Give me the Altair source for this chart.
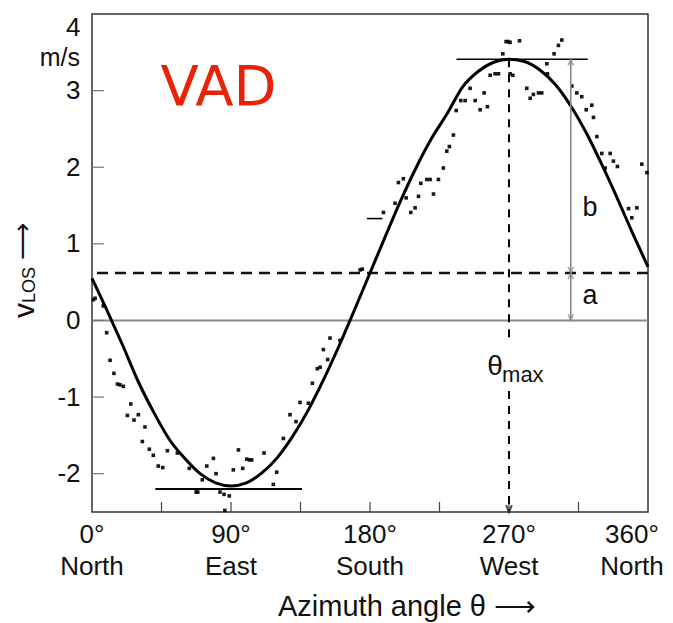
import altair as alt
import pandas as pd

# ---------------- data ----------------
curve_theta = list(range(0, 361, 10))
curve_v = [0.55, 0.12, -0.33, -0.80, -1.20, -1.55, -1.80, -2.00, -2.12, -2.16,
           -2.12, -1.99, -1.79, -1.51, -1.17, -0.77, -0.33, 0.14, 0.62, 1.10,
           1.57, 2.00, 2.38, 2.70, 3.05, 3.25, 3.37, 3.41, 3.38, 3.27,
           3.08, 2.80, 2.45, 2.04, 1.60, 1.14, 0.70]

dot_theta = [0.9, 2.0, 7.3, 9.5, 11.7, 14.2, 16.5, 18.1, 20.3, 22.9, 25.1, 27.2, 30.0,
             32.6, 34.3, 37.1, 39.7, 42.9, 45.8, 48.8, 55.3, 63.0, 67.4, 68.5, 71.4,
             74.3, 78.6, 80.3, 82.9, 85.5, 86.0, 88.9, 91.5, 94.8, 97.6, 100.2, 102.0,
             103.4, 111.4, 117.4, 119.6, 123.9, 128.2, 132.1, 134.7, 140.1, 142.7,
             145.9, 147.7, 149.8, 152.6, 154.1, 160.6, 173.6, 175.0, 188.7, 196.2,
             198.4, 201.6, 203.4, 206.4, 209.2, 211.4, 212.9, 216.8, 218.9, 221.1,
             224.3, 227.5, 229.7, 231.4, 234.0, 235.8, 238.8, 241.6, 244.8, 248.1,
             251.3, 253.9, 256.0, 257.8, 261.0, 263.2, 266.0, 268.1, 269.5, 270.7,
             276.8, 270.7, 272.5, 281.5, 283.7, 285.8, 289.1, 291.2, 294.5, 294.9,
             299.2, 302.0, 304.2, 310.7, 313.9, 317.1, 320.0, 323.6, 324.7, 326.9,
             330.1, 332.3, 335.5, 337.6, 340.2, 347.4, 349.5, 352.8, 356.0, 359.3]
dot_v = [0.27, 0.29, 0.19, -0.16, -0.52, -0.69, -0.83, -0.84, -0.86, -1.24, -1.09, -1.30, -1.23,
         -1.58, -1.39, -1.68, -1.76, -1.90, -1.92, -1.70, -1.73, -1.93, -2.24, -2.24, -2.08,
         -1.90, -1.80, -2.00, -2.24, -2.27, -2.48, -2.29, -1.95, -1.69, -1.93, -1.81, -1.82,
         -1.82, -1.73, -2.14, -1.98, -1.54, -1.23, -1.32, -1.07, -1.08, -0.82,
         -0.63, -0.61, -0.38, -0.51, -0.23, -0.26, 0.66, 0.67, 1.41, 1.53,
         1.80, 1.85, 1.60, 1.41, 1.47, 1.62, 1.79, 1.84, 1.84, 1.65,
         1.84, 1.99, 2.21, 2.27, 2.42, 2.74, 2.87, 2.87, 3.03, 2.87,
         2.75, 2.97, 2.79, 3.20, 3.22, 3.22, 3.48, 3.64, 3.64, 3.63,
         3.65, 3.22, 3.20, 3.03, 2.90, 2.95, 2.97, 2.97, 3.35, 3.22,
         3.48, 3.59, 3.66, 3.06, 2.97, 2.92, 2.75, 2.81, 2.65, 2.40,
         2.18, 1.99, 2.18, 2.08, 2.01, 1.46, 1.34, 1.47, 2.04, 1.93]

a_offset = 0.62          # dashed mean line (a)
v_max = 3.41             # maximum of fit
theta_max = 270
b_arrow_theta = 310
top_tangent = [236, 321]
bottom_tangent = [41, 136, -2.2]
short_dash = [178, 188, 1.33]

x_tick_vals = [0, 45, 90, 135, 180, 225, 270, 315, 360]
x_label_vals = [0, 90, 180, 270, 360]
x_label_deg = ["0°", "90°", "180°", "270°", "360°"]
x_label_dir = ["North", "East", "South", "West", "North"]
y_tick_vals = [-2, -1, 0, 1, 2, 3, 4]

# ---------------- scales / axes ----------------
FONT = "Liberation Sans"
xs = alt.Scale(domain=[0, 360], nice=False, zero=False)
ys = alt.Scale(domain=[-2.5, 4], nice=False, zero=False)

xax = alt.Axis(values=x_tick_vals, labels=False, ticks=False, tickSize=0, domain=False,
               grid=False, title=None)
yax = alt.Axis(values=y_tick_vals, ticks=False, tickSize=0, domain=False, grid=False,
               labelExpr="'' + datum.value",
               labelFontSize=26, labelFont=FONT, labelColor="#111", labelPadding=12,
               labelFlush=True, title=None)


def X(f):
    return alt.X(f, type="quantitative", scale=xs, axis=xax, title=None)


def Y(f):
    return alt.Y(f, type="quantitative", scale=ys, axis=yax, title=None)


curve_df = pd.DataFrame({"theta": curve_theta, "v": curve_v})
dots_df = pd.DataFrame({"theta": dot_theta, "v": dot_v})

hlines_df = pd.DataFrame({"v": [0.0]})
dash_df = pd.DataFrame({"v": [a_offset]})

seg_df = pd.DataFrame({
    "theta": [top_tangent[0], bottom_tangent[0], short_dash[0]],
    "theta2": [top_tangent[1], bottom_tangent[1], short_dash[1]],
    "v": [v_max, bottom_tangent[2], short_dash[2]],
    "w": [1.6, 2.0, 1.6],
})

vdash_df = pd.DataFrame({"theta": [theta_max, theta_max], "v": [v_max, -0.92], "v2": [-0.30, -2.48]})
barrow_df = pd.DataFrame({"theta": [b_arrow_theta], "v": [v_max], "v2": [0.0]})

up_df = pd.DataFrame({"theta": [b_arrow_theta, b_arrow_theta], "v": [v_max, a_offset]})
down_df = pd.DataFrame({"theta": [b_arrow_theta, b_arrow_theta], "v": [a_offset, 0.0]})
down_black_df = pd.DataFrame({"theta": [theta_max], "v": [-2.5]})

xt_df = pd.DataFrame({"theta": [t for t in x_tick_vals if 0 < t < 360]})
yt_df = pd.DataFrame({"v": [t for t in y_tick_vals if t < 4]})

xlab_df = pd.DataFrame({"theta": x_label_vals,
                        "t": [f"{d}\n{n}" for d, n in zip(x_label_deg, x_label_dir)]})

zero_line = alt.Chart(hlines_df).mark_rule(color="#8a8a8a", strokeWidth=2).encode(y=Y("v"))
a_line = alt.Chart(dash_df).mark_rule(color="#111", strokeWidth=2.4, strokeDash=[11, 7]).encode(y=Y("v"))

xticks = alt.Chart(xt_df).mark_rule(color="#444", strokeWidth=1.2).encode(
    x=X("theta"), y=alt.value(498), y2=alt.value(488))
yticks = alt.Chart(yt_df).mark_rule(color="#777", strokeWidth=1.2).encode(
    y=Y("v"), x=alt.value(0), x2=alt.value(12))

curve = alt.Chart(curve_df).mark_line(color="#000", strokeWidth=3, interpolate="monotone").encode(
    x=X("theta"), y=Y("v"))

dots = alt.Chart(dots_df).mark_square(size=13, color="#000", opacity=0.9).encode(
    x=X("theta"), y=Y("v"))

segs = alt.Chart(seg_df).mark_rule(color="#000").encode(
    x=X("theta"), x2="theta2", y=Y("v"), strokeWidth=alt.StrokeWidth("w:Q", scale=None, legend=None))

vdash = alt.Chart(vdash_df).mark_rule(color="#000", strokeWidth=2, strokeDash=[8, 7]).encode(
    x=X("theta"), y=Y("v"), y2="v2")

barrow = alt.Chart(barrow_df).mark_rule(color="#888", strokeWidth=1.6).encode(
    x=X("theta"), y=Y("v"), y2="v2")

UP = "M-0.55,1.3L0,0L0.55,1.3"
DOWN = "M-0.55,-1.3L0,0L0.55,-1.3"
up_heads = alt.Chart(up_df).mark_point(shape=UP, size=90, filled=False, color="#888", strokeWidth=1.6).encode(
    x=X("theta"), y=Y("v"))
down_heads = alt.Chart(down_df).mark_point(shape=DOWN, size=90, filled=False, color="#888", strokeWidth=1.6).encode(
    x=X("theta"), y=Y("v"))
down_black = alt.Chart(down_black_df).mark_point(shape=DOWN, size=110, filled=False, color="#000", strokeWidth=2).encode(
    x=X("theta"), y=Y("v"))

# x tick labels (two lines: degrees and compass direction)
xlabels = alt.Chart(xlab_df[xlab_df.theta < 360]).mark_text(
    font=FONT, fontSize=26, color="#111", align="center", baseline="top",
    lineBreak="\n", lineHeight=32).encode(x=X("theta"), y=alt.value(508), text="t:N")
xlabel_end = alt.Chart(xlab_df[xlab_df.theta == 360]).mark_text(
    font=FONT, fontSize=26, color="#111", align="center", baseline="top",
    lineBreak="\n", lineHeight=32, dx=-16).encode(x=X("theta"), y=alt.value(508), text="t:N")

# ---------------- text annotations ----------------
ann_df = pd.DataFrame({
    "theta": [322.5, 322.5, 261],
    "v": [1.47, 0.32, -0.61],
    "t": ["b", "a", "θ"],
    "fs": [27, 27, 28],
})
ann = alt.Chart(ann_df).mark_text(font=FONT, color="#111", baseline="middle", align="center").encode(
    x=X("theta"), y=Y("v"), text="t:N",
    size=alt.Size("fs:Q", scale=None, legend=None))
vad = alt.Chart(pd.DataFrame({"theta": [82], "v": [3.03], "t": ["VAD"]})).mark_text(
    font="DejaVu Sans", fontSize=56, color="#e8230a", baseline="middle", align="center").encode(
    x=X("theta"), y=Y("v"), text="t:N")

sub = alt.Chart(pd.DataFrame({"theta": [265.5], "v": [-0.71], "t": ["max"]})).mark_text(
    font=FONT, fontSize=22, color="#111", baseline="middle", align="left").encode(
    x=X("theta"), y=Y("v"), text="t:N")

ms = alt.Chart(pd.DataFrame({"v": [3.43], "t": ["m/s"]})).mark_text(
    font=FONT, fontSize=25, color="#111", baseline="middle", align="right").encode(
    x=alt.value(-12), y=Y("v"), text="t:N")

# axis titles built from text marks (subscript needed)
yt_v = alt.Chart(pd.DataFrame({"t": ["v"]})).mark_text(
    font=FONT, fontSize=30, color="#111", angle=270, align="left", baseline="alphabetic").encode(
    x=alt.value(-58), y=alt.value(304), text="t:N")
yt_los = alt.Chart(pd.DataFrame({"t": ["LOS"]})).mark_text(
    font=FONT, fontSize=18, color="#111", angle=270, align="left", baseline="alphabetic").encode(
    x=alt.value(-57), y=alt.value(289), text="t:N")
yt_arrow = alt.Chart(pd.DataFrame({"t": ["⟶"]})).mark_text(
    font="DejaVu Sans", fontSize=26, color="#111", angle=270, align="left", baseline="middle").encode(
    x=alt.value(-69), y=alt.value(246), text="t:N")
xt_title = alt.Chart(pd.DataFrame({"t": ["Azimuth angle θ ⟶"]})).mark_text(
    font=FONT, fontSize=29, color="#111", align="center", baseline="middle").encode(
    x=alt.value(315), y=alt.value(593), text="t:N")

chart = alt.layer(
    zero_line, a_line, xticks, yticks, dots, curve, segs, vdash, barrow,
    up_heads, down_heads, down_black, xlabels, xlabel_end, vad, ann, sub, ms,
    yt_v, yt_los, yt_arrow, xt_title,
).properties(
    width=556, height=498,
    autosize=alt.AutoSizeParams(type="none"),
    padding={"left": 84, "top": 6, "right": 17, "bottom": 111},
).configure_view(stroke="#333", strokeWidth=1.5)

chart.save("out.html", embed_options={"renderer": "svg", "actions": False})
